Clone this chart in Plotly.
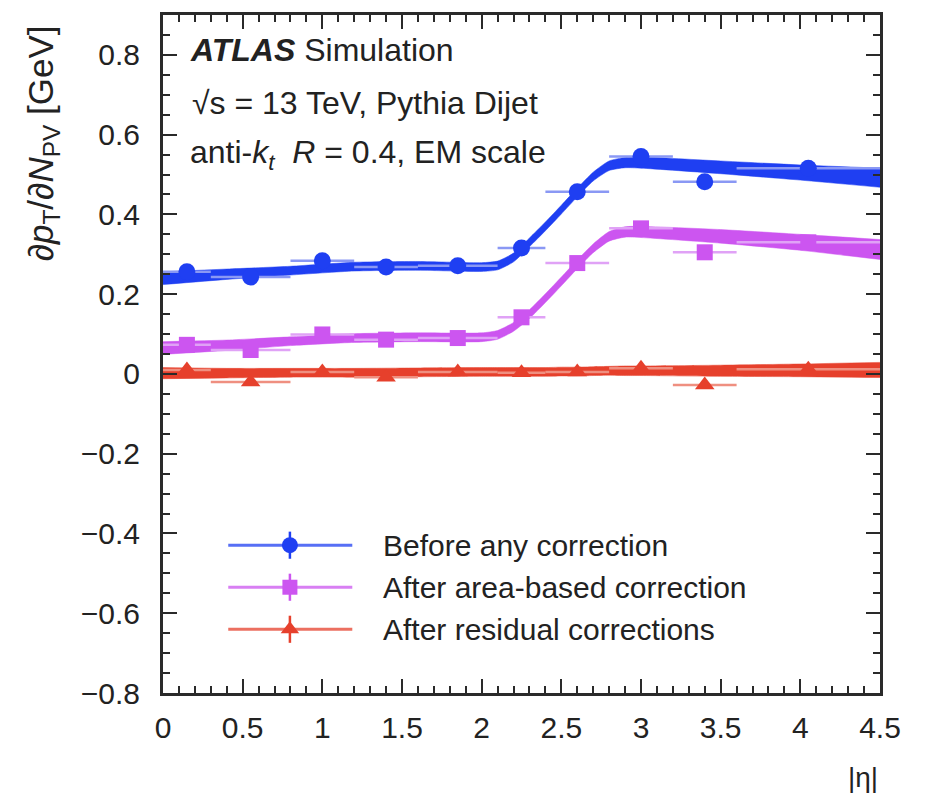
import plotly.graph_objects as go

# ---------------- data ----------------
eta = [0.15, 0.55, 1.0, 1.4, 1.85, 2.25, 2.6, 3.0, 3.4, 4.05]
eta_lo = [0.0, 0.3, 0.8, 1.2, 1.6, 2.1, 2.4, 2.8, 3.2, 3.6]
eta_hi = [0.3, 0.8, 1.2, 1.6, 2.1, 2.4, 2.8, 3.2, 3.6, 4.5]

before = [0.256, 0.243, 0.284, 0.268, 0.271, 0.316, 0.457, 0.545, 0.482, 0.516]
area = [0.073, 0.060, 0.099, 0.086, 0.090, 0.142, 0.278, 0.365, 0.305, 0.330]
residual = [0.010, -0.020, 0.005, -0.008, 0.005, 0.003, 0.005, 0.014, -0.028, 0.012]

fit_x = [0.0, 0.4, 0.8, 1.2, 1.6, 2.0, 2.1, 2.2, 2.3, 2.4, 2.5, 2.6, 2.7, 2.8, 2.9, 3.0, 3.5, 4.0, 4.5]
before_fit = [0.240, 0.250, 0.259, 0.269, 0.271, 0.268, 0.272, 0.292, 0.330, 0.370, 0.412, 0.455, 0.495,
              0.522, 0.530, 0.530, 0.518, 0.505, 0.492]
before_hw = [0.016, 0.013, 0.011, 0.011, 0.011, 0.011, 0.011, 0.011, 0.011, 0.011, 0.011, 0.011, 0.011,
             0.012, 0.013, 0.014, 0.016, 0.019, 0.024]
area_fit = [0.065, 0.072, 0.082, 0.090, 0.092, 0.092, 0.098, 0.118, 0.150, 0.190, 0.232, 0.275, 0.315,
            0.345, 0.356, 0.356, 0.345, 0.330, 0.312]
area_hw = [0.016, 0.013, 0.011, 0.011, 0.011, 0.011, 0.011, 0.011, 0.011, 0.011, 0.011, 0.011, 0.011,
           0.012, 0.013, 0.014, 0.017, 0.020, 0.025]
residual_fit = [0.002, 0.002, 0.003, 0.003, 0.004, 0.005, 0.005, 0.005, 0.005, 0.005, 0.006, 0.006, 0.007,
                0.008, 0.008, 0.008, 0.008, 0.009, 0.010]
residual_hw = [0.014, 0.012, 0.011, 0.011, 0.011, 0.011, 0.011, 0.011, 0.011, 0.011, 0.011, 0.011, 0.011,
               0.011, 0.012, 0.012, 0.014, 0.016, 0.019]

legend_labels = ["Before any correction", "After area-based correction", "After residual corrections"]
x_ticks = [0, 0.5, 1, 1.5, 2, 2.5, 3, 3.5, 4, 4.5]
y_ticks = [-0.8, -0.6, -0.4, -0.2, 0, 0.2, 0.4, 0.6, 0.8]

# ---------------- styles ----------------
colors = ["#1f3ff2", "#cc55f0", "#e6402c"]
bar_colors = ["#8a98f4", "#e0a2f6", "#ef8f80"]
symbols = ["circle", "square", "triangle-up"]
sizes = [17, 16, 17]
FONT = "Liberation Sans, Arial, sans-serif"
INK = "#222222"

series = [before, area, residual]
fits = [(before_fit, before_hw), (area_fit, area_hw), (residual_fit, residual_hw)]

fig = go.Figure()

# fit bands
for (fy, hw), c in zip(fits, colors):
    upper = [v + h for v, h in zip(fy, hw)]
    lower = [v - h for v, h in zip(fy, hw)]
    fig.add_trace(go.Scatter(x=fit_x, y=upper, mode="lines", line=dict(width=0.5, color=c, shape="spline", smoothing=0.6),
                             showlegend=False, hoverinfo="skip"))
    fig.add_trace(go.Scatter(x=fit_x, y=lower, mode="lines", line=dict(width=0.5, color=c, shape="spline", smoothing=0.6),
                             fill="tonexty", fillcolor=c, showlegend=False, hoverinfo="skip"))

# data points with bin-width error bars
ex_plus = [h - x for h, x in zip(eta_hi, eta)]
ex_minus = [x - l for l, x in zip(eta_lo, eta)]
for ys, c, bc, sym, sz, name in zip(series, colors, bar_colors, symbols, sizes, legend_labels):
    fig.add_trace(go.Scatter(
        x=eta, y=ys, mode="markers", name=name, showlegend=False,
        marker=dict(symbol=sym, size=sz, color=c, line=dict(width=0)),
        error_x=dict(type="data", symmetric=False, array=ex_plus, arrayminus=ex_minus,
                     color=bc, thickness=2.5, width=0),
    ))

# manual legend (drawn on hidden overlay axes in plot-fraction units)
leg_rows = [0.218, 0.156, 0.094]
leg_x0, leg_xm, leg_x1, leg_tx = 0.091, 0.177, 0.264, 0.304
for i, (lab, c, bc, sym, sz) in enumerate(zip(legend_labels, colors, bar_colors, symbols, sizes)):
    yrow = leg_rows[i]
    fig.add_trace(go.Scatter(x=[leg_x0, leg_x1], y=[yrow, yrow], mode="lines",
                             line=dict(color=c, width=3), opacity=0.75,
                             xaxis="x2", yaxis="y2", showlegend=False, hoverinfo="skip"))
    fig.add_trace(go.Scatter(x=[leg_xm], y=[yrow], mode="markers",
                             marker=dict(symbol=sym, size=sz - 1, color=c, line=dict(width=0)),
                             error_y=dict(type="constant", value=0.02, color=c, thickness=2.5, width=0),
                             xaxis="x2", yaxis="y2", showlegend=False, hoverinfo="skip"))
    fig.add_annotation(x=leg_tx, y=yrow, xref="x2", yref="y2", text=lab, showarrow=False,
                       xanchor="left", yanchor="middle", font=dict(family=FONT, size=30, color=INK))

axis_common = dict(
    showline=True, linewidth=3, linecolor="#2a2a2a", mirror="ticks",
    ticks="inside", ticklen=14, tickwidth=2, tickcolor="#2a2a2a",
    showgrid=False, zeroline=False,
    tickfont=dict(family=FONT, size=30, color=INK),
)

fig.update_layout(
    width=930, height=801,
    margin=dict(l=163, r=50, t=15, b=108, pad=0),
    paper_bgcolor="white", plot_bgcolor="white",
    showlegend=False,
    xaxis=dict(range=[0, 4.5], tickvals=x_ticks, ticktext=[f"{v:g}" for v in x_ticks],
               minor=dict(dtick=0.1, ticks="inside", ticklen=7, tickwidth=2, tickcolor="#2a2a2a"),
               ticklabelstandoff=6, **axis_common),
    yaxis=dict(range=[-0.8, 0.9], tickvals=y_ticks,
               ticktext=[("\u2212" if v < 0 else "") + f"{abs(v):g}" for v in y_ticks],
               minor=dict(dtick=0.05, ticks="inside", ticklen=7, tickwidth=2, tickcolor="#2a2a2a"),
               ticklabelstandoff=14, **axis_common),
    xaxis2=dict(overlaying="x", range=[0, 1], visible=False),
    yaxis2=dict(overlaying="y", range=[0, 1], visible=False),
)

# texts
fig.add_annotation(x=0.035, y=0.948, xref="paper", yref="paper", xanchor="left", yanchor="middle",
                   text="<b><i>ATLAS</i></b> Simulation", showarrow=False,
                   font=dict(family=FONT, size=32, color=INK))
fig.add_annotation(x=0.038, y=0.870, xref="paper", yref="paper", xanchor="left", yanchor="middle",
                   text="\u221as = 13 TeV, Pythia Dijet", showarrow=False,
                   font=dict(family=FONT, size=32, color=INK))
fig.add_annotation(x=0.035, y=0.794, xref="paper", yref="paper", xanchor="left", yanchor="middle",
                   text="anti-<i>k</i><sub><i>t</i></sub>  <i>R</i> = 0.4, EM scale", showarrow=False,
                   font=dict(family=FONT, size=32, color=INK))
fig.add_annotation(x=-0.168, y=0.81, xref="paper", yref="paper", xanchor="center", yanchor="middle",
                   textangle=-90,
                   text="\u2202<i>p</i><sub>T</sub>/\u2202<i>N</i><sub>PV</sub> [GeV]", showarrow=False,
                   font=dict(family=FONT, size=35, color=INK))
fig.add_annotation(x=1.0, y=-0.124, xref="paper", yref="paper", xanchor="right", yanchor="middle",
                   text="|\u03b7|", showarrow=False,
                   font=dict(family=FONT, size=28, color=INK))

fig.write_html("out.html")
